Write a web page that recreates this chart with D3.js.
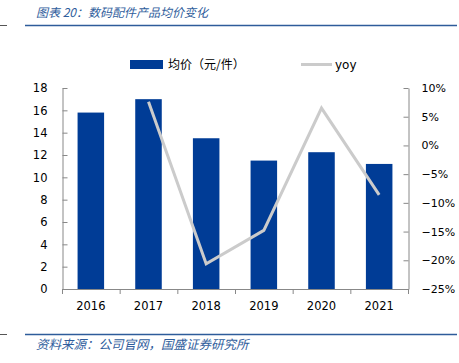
<!DOCTYPE html>
<html>
<head>
<meta charset="utf-8">
<script src="https://cdn.jsdelivr.net/npm/d3@7"></script>
<style>
  body { margin: 0; background: #fff; }
</style>
</head>
<body>
<div id="chart"></div>
<script>
// data
var years = ['2016', '2017', '2018', '2019', '2020', '2021'];
var price = [15.8, 17.0, 13.5, 11.5, 12.25, 11.2];
var yoy = [null, 0.076, -0.206, -0.148, 0.065, -0.086];
var leftTicks = [0, 2, 4, 6, 8, 10, 12, 14, 16, 18];
var rightTicks = [-0.25, -0.2, -0.15, -0.1, -0.05, 0, 0.05, 0.1];

var W = 459, H = 363;
var svg = d3.select('#chart').append('svg')
    .attr('width', W)
    .attr('height', H)
    .attr('font-family', '"DejaVu Sans", sans-serif');

var blue = '#003c96';
var titleBlue = '#2f5d9c';
var cjk = '"Noto Sans CJK SC", sans-serif';

// title + rules
svg.append('text')
    .attr('x', 36).attr('y', 17)
    .style('font-family', cjk)
    .style('font-style', 'italic')
    .style('font-size', '12px')
    .style('fill', titleBlue)
    .text('图表 20：数码配件产品均价变化');
svg.append('line').attr('x1', 25).attr('x2', 457).attr('y1', 25.5).attr('y2', 25.5)
    .attr('stroke', '#2e5c9a').attr('stroke-width', 1.5);
svg.append('line').attr('x1', 0).attr('x2', 7).attr('y1', 25.5).attr('y2', 25.5)
    .attr('stroke', '#555').attr('stroke-width', 1);
svg.append('line').attr('x1', 25).attr('x2', 457).attr('y1', 334.5).attr('y2', 334.5)
    .attr('stroke', '#2e5c9a').attr('stroke-width', 1.5);
svg.append('line').attr('x1', 0).attr('x2', 7).attr('y1', 334.5).attr('y2', 334.5)
    .attr('stroke', '#555').attr('stroke-width', 1);
svg.append('text')
    .attr('x', 36).attr('y', 349)
    .style('font-family', cjk)
    .style('font-style', 'italic')
    .style('font-size', '12.5px')
    .style('fill', titleBlue)
    .text('资料来源：公司官网，国盛证券研究所');

// scales
var x = d3.scaleBand().domain(years).range([62, 408]).paddingInner(0.54).paddingOuter(0.27);
var yL = d3.scaleLinear().domain([0, 18]).range([289, 88]);
var yR = d3.scaleLinear().domain([-0.25, 0.1]).range([289, 88]);

// bars
svg.selectAll('.bar')
    .data(price)
    .enter()
    .append('rect')
    .attr('class', 'bar')
    .attr('x', (d, i) => x(years[i]))
    .attr('y', d => yL(d))
    .attr('width', x.bandwidth())
    .attr('height', d => yL(0) - yL(d))
    .attr('fill', blue);

// axes
var axisColor = '#888';
var gl = svg.append('g').attr('transform', 'translate(62.5,0)')
    .call(d3.axisLeft(yL).tickValues(leftTicks).tickSize(5).tickSizeOuter(0).tickPadding(10));
var gr = svg.append('g').attr('transform', 'translate(408.5,0)')
    .call(d3.axisRight(yR).tickValues(rightTicks).tickSize(5).tickSizeOuter(0).tickPadding(8)
        .tickFormat(d3.format('.0%')));
var gb = svg.append('g').attr('transform', 'translate(0,289.5)')
    .call(d3.axisBottom(x).tickSize(0).tickPadding(12));
gb.select('.domain').attr('d', 'M62,0H408');
// tick marks between categories on x axis
svg.selectAll('.xtick')
    .data(d3.range(7))
    .enter()
    .append('line')
    .attr('x1', i => 62 + i * x.step() + 0.5)
    .attr('x2', i => 62 + i * x.step() + 0.5)
    .attr('y1', 289).attr('y2', 294)
    .attr('stroke', axisColor);

[gl, gr, gb].forEach(g => {
    g.selectAll('.domain').attr('stroke', axisColor);
    g.selectAll('.tick line').attr('stroke', axisColor);
    g.selectAll('text').style('font-size', '11.5px').style('fill', '#000')
        .style('font-family', '"DejaVu Sans", sans-serif');
});
gl.selectAll('.tick line').attr('x2', 5);
gr.selectAll('.tick line').attr('x2', -5);
gr.selectAll('text').attr('text-anchor', 'start').style('font-size', '11px');

// yoy line
var line = d3.line()
    .defined(d => d.v !== null)
    .x(d => x(d.y) + x.bandwidth() / 2)
    .y(d => yR(d.v));
svg.append('path')
    .datum(years.map((y, i) => ({ y: y, v: yoy[i] })))
    .attr('d', line)
    .attr('fill', 'none')
    .attr('stroke', '#cbcbcb')
    .attr('stroke-width', 3);

// legend
svg.append('rect').attr('x', 130).attr('y', 60).attr('width', 33).attr('height', 9).attr('fill', blue);
svg.append('text').attr('x', 168).attr('y', 69)
    .style('font-family', cjk).style('font-size', '12px').style('fill', '#000')
    .text('均价（元/件）');
svg.append('line').attr('x1', 301).attr('x2', 332).attr('y1', 64.5).attr('y2', 64.5)
    .attr('stroke', '#cbcbcb').attr('stroke-width', 3);
svg.append('text').attr('x', 335).attr('y', 69)
    .style('font-size', '12px').style('fill', '#000')
    .text('yoy');
</script>
</body>
</html>
